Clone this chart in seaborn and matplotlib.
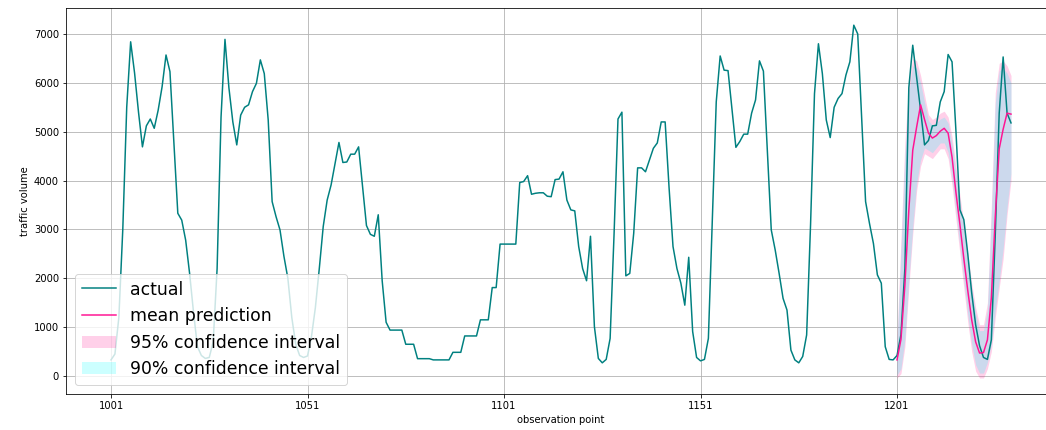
import numpy as np
import pandas as pd
import matplotlib
matplotlib.use("Agg")
import matplotlib.pyplot as plt
import seaborn as sns

# ---------------- data ----------------
start_obs = 1001
actual = [
    330, 450, 1200, 3000, 5500, 6840, 6200, 5400, 4690, 5120,
    5260, 5070, 5440, 5920, 6570, 6230, 4760, 3330, 3190, 2780,
    2100, 1300, 600, 420, 360, 380, 700, 2200, 5300, 6890,
    5900, 5200, 4730, 5340, 5500, 5550, 5820, 5990, 6470, 6190,
    5240, 3570, 3260, 2990, 2450, 2000, 1200, 650, 420, 380,
    410, 800, 1400, 2200, 3060, 3600, 3910, 4350, 4780, 4370,
    4380, 4540, 4540, 4690, 3880, 3080, 2900, 2860, 3300, 1950,
    1100, 940, 940, 940, 940, 650, 650, 650, 355, 355,
    355, 355, 330, 330, 330, 330, 330, 485, 485, 485,
    820, 820, 820, 820, 1150, 1150, 1150, 1810, 1810, 2700,
    2700, 2700, 2700, 2700, 3960, 3980, 4100, 3720, 3740, 3750,
    3750, 3680, 3670, 4020, 4030, 4180, 3600, 3400, 3380, 2650,
    2200, 1950, 2860, 1010, 360, 270, 340, 770, 2900, 5260,
    5400, 2050, 2100, 2920, 4260, 4260, 4180, 4420, 4660, 4770,
    5200, 5200, 3850, 2650, 2200, 1900, 1450, 2430, 910, 380,
    310, 340, 770, 3200, 5610, 6550, 6260, 6250, 5460, 4680,
    4800, 4950, 4950, 5380, 5650, 6450, 6240, 4630, 2990, 2580,
    2100, 1590, 1350, 530, 330, 270, 400, 840, 3100, 5780,
    6800, 6190, 5240, 4880, 5500, 5680, 5780, 6160, 6430, 7180,
    7000, 5290, 3570, 3120, 2710, 2070, 1900, 600, 340, 330,
    420, 850, 2200, 5900, 6770, 6100, 5440, 4730, 4820, 5120,
    5130, 5610, 5820, 6580, 6430, 5000, 3400, 3200, 2500, 1700,
    1050, 620, 380, 340, 740, 2900, 5380, 6530, 5380, 5180,
]

pred_start = 1201
mean_pred = [
    330, 750, 1860, 3390, 4620, 5100, 5550, 5250, 4970, 4870,
    4920, 5010, 5070, 4970, 4480, 3750, 3100, 2400, 1750, 1150,
    700, 470, 480, 740, 1600, 3260, 4650, 5050, 5380, 5360,
]
lower95 = [
    -40, 50, 600, 1800, 2900, 3800, 4300, 4550, 4500, 4450,
    4550, 4650, 4650, 4450, 3900, 3200, 2500, 1800, 1100, 500,
    100, -40, -40, 150, 500, 1200, 1800, 2400, 3300, 4000,
]
upper95 = [
    800, 2800, 4800, 6000, 6500, 6450, 6150, 5750, 5350, 5250,
    5300, 5380, 5420, 5300, 4900, 4300, 3700, 3100, 2500, 1900,
    1400, 1050, 1050, 1500, 3500, 5800, 6400, 6450, 6350, 6150,
]
lower90 = [
    20, 150, 750, 1950, 3050, 3950, 4420, 4670, 4620, 4570,
    4670, 4770, 4770, 4580, 4050, 3350, 2650, 1950, 1250, 650,
    230, 60, 60, 280, 650, 1350, 1950, 2600, 3450, 4150,
]
upper90 = [
    650, 2600, 4550, 5800, 6350, 6300, 6000, 5600, 5230, 5130,
    5180, 5260, 5300, 5180, 4750, 4150, 3550, 2950, 2350, 1780,
    1280, 930, 930, 1350, 3300, 5600, 6250, 6300, 6200, 6000,
]
xtick_values = [1001, 1051, 1101, 1151, 1201]
ytick_values = [0, 1000, 2000, 3000, 4000, 5000, 6000, 7000]

# ---------------- frames ----------------
df_actual = pd.DataFrame({
    "obs": np.arange(start_obs, start_obs + len(actual)),
    "value": actual,
})
df_pred = pd.DataFrame({
    "obs": np.arange(pred_start, pred_start + len(mean_pred)),
    "mean": mean_pred,
    "lo95": lower95, "hi95": upper95,
    "lo90": lower90, "hi90": upper90,
})

# ---------------- plot ----------------
W, H, DPI = 1046, 430, 72
fig = plt.figure(figsize=(W / DPI, H / DPI), dpi=DPI)
ax = fig.add_axes([66 / W, 36 / H, 990 / W, 386.5 / H])

sns.lineplot(data=df_actual, x="obs", y="value", ax=ax, color="teal",
             linewidth=1.5, label="actual")
sns.lineplot(data=df_pred, x="obs", y="mean", ax=ax, color="deeppink",
             linewidth=1.5, label="mean prediction")
ax.fill_between(df_pred["obs"], df_pred["lo95"], df_pred["hi95"],
                color="deeppink", alpha=0.2, linewidth=0,
                label="95% confidence interval")
ax.fill_between(df_pred["obs"], df_pred["lo90"], df_pred["hi90"],
                color="cyan", alpha=0.2, linewidth=0,
                label="90% confidence interval")

ax.set_xlim(989.55, 1241.45)
ax.set_ylim(-368, 7542)
ax.set_xticks(xtick_values)
ax.set_yticks(ytick_values)
ax.grid(True, color="#b0b0b0", linewidth=0.8)
ax.set_axisbelow(True)
ax.tick_params(labelsize=10)
ax.set_xlabel("observation point", fontsize=10)
ax.set_ylabel("traffic volume", fontsize=10)

ax.legend(loc="lower left", fontsize="xx-large")

fig.savefig("out.png", dpi=DPI)
